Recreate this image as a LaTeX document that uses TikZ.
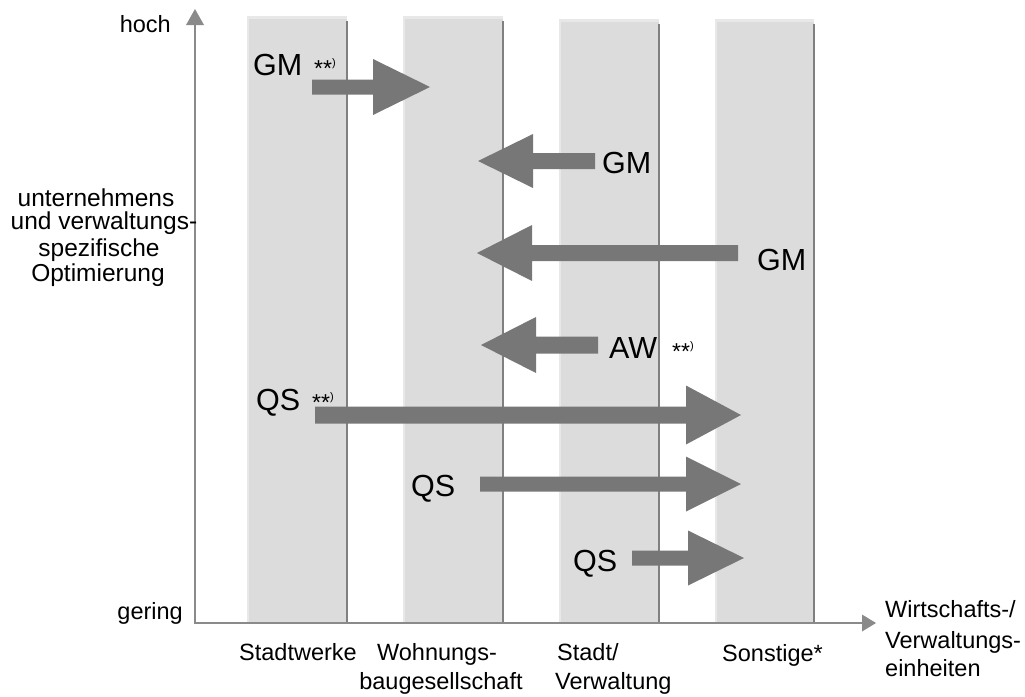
\documentclass[tikz,border=0pt]{standalone}
\usepackage{fontspec}
\setmainfont{Liberation Sans}
\definecolor{colfill}{HTML}{DCDCDC}
\definecolor{colhi}{HTML}{E8E8E8}
\definecolor{coledge}{HTML}{808080}
\definecolor{arrgray}{HTML}{777777}
\definecolor{axisgray}{HTML}{8A8A8A}
\newcommand{\lblfnt}{\fontsize{23.5}{25}\selectfont}
\newcommand{\leftfnt}{\fontsize{24.5}{25}\selectfont}
\newcommand{\bigfnt}{\fontsize{30.5}{32}\selectfont}
\newcommand{\starmark}{{\fontsize{23}{23}\selectfont **\raisebox{10pt}{\fontsize{11}{11}\selectfont )}}}
\newcommand{\blockarrow}[6]{%
  \fill[barrow] (#1,#4-#5) -- (#2,#4-#5) -- (#2,#4-#6) -- (#3,#4) -- (#2,#4+#6) -- (#2,#4+#5) -- (#1,#4+#5) -- cycle;}
\newcommand{\grcol}[3]{%
  \fill[colhi] (#1,#3) rectangle (#2,623);
  \fill[colfill] (#1+2,#3+3) rectangle (#2,623);
  \draw[coledge,line width=1.6pt] (#2,#3+5) -- (#2,623);}
\begin{document}
\begin{tikzpicture}[x=1pt,y=-1pt,
  barrow/.style={fill=arrgray},
  axis/.style={draw=axisgray,line width=1.4pt},
  axtip/.style={fill=axisgray},
  txt/.style={inner sep=0pt,font=\lblfnt},
  ltxt/.style={inner sep=0pt,font=\leftfnt},
  btxt/.style={inner sep=0pt,font=\bigfnt}]
\useasboundingbox (0,0) rectangle (1025,696);
% columns
\grcol{247}{347}{16}
\grcol{403}{503}{16}
\grcol{559}{659}{19}
\grcol{715}{814}{19}
% axes
\coordinate (origin) at (195,623);
\coordinate (ytip) at (195,25);
\coordinate (xtip) at (862,623);
\draw[axis] (ytip) -- (origin) -- (xtip);
\fill[axtip] (195,9) -- (204,25) -- (186,25) -- cycle;
\fill[axtip] (876,623) -- (862,614.5) -- (862,631.5) -- cycle;
% block arrows
\blockarrow{312}{373}{430}{87}{7.5}{28}
\blockarrow{595}{533}{478}{161}{8}{27}
\blockarrow{738}{532}{477}{253}{8}{28}
\blockarrow{598}{536}{481}{345}{8.5}{28}
\blockarrow{315}{686}{741}{415}{8.5}{29.5}
\blockarrow{480}{686}{741}{484}{7.5}{27.5}
\blockarrow{632}{688}{744}{558}{7.5}{27.5}
% arrow labels
\node[btxt,anchor=base west] (gm1) at (253,75) {GM};
\node[txt,anchor=base west] (st1) at (314,76) {\starmark};
\node[btxt,anchor=base west] (gm2) at (602,173) {GM};
\node[btxt,anchor=base west] (gm3) at (757,270) {GM};
\node[btxt,anchor=base west] (aw) at (609,358) {AW};
\node[txt,anchor=base west] (st2) at (672,359) {\starmark};
\node[btxt,anchor=base west] (qs1) at (256,410) {QS};
\node[txt,anchor=base west] (st3) at (312,410) {\starmark};
\node[btxt,anchor=base west] (qs2) at (411,496) {QS};
\node[btxt,anchor=base west] (qs3) at (573,571) {QS};
% axis labels
\node[txt,anchor=base east] (hoch) at (171,32) {hoch};
\node[txt,anchor=base east] (gering) at (183,619) {gering};
\node[ltxt,anchor=base] (l1) at (96,206) {unternehmens};
\node[ltxt,anchor=base] (l2) at (104,229) {und verwaltungs-};
\node[ltxt,anchor=base] (l3) at (99,256) {spezifische};
\node[ltxt,anchor=base] (l4) at (98,281) {Optimierung};
% column labels
\node[txt,anchor=base] (c1) at (298,660) {Stadtwerke};
\node[txt,anchor=base] (c2a) at (437,660) {Wohnungs-};
\node[txt,anchor=base] (c2b) at (441,689) {baugesellschaft};
\node[txt,anchor=base west] (c3a) at (557,660) {Stadt/};
\node[txt,anchor=base west] (c3b) at (555,689) {Verwaltung};
\node[txt,anchor=base west] (c4) at (722,661) {Sonstige*};
\node[txt,anchor=base west] (w1) at (885,617) {Wirtschafts-/};
\node[txt,anchor=base west] (w2) at (885,648) {Verwaltungs-};
\node[txt,anchor=base west] (w3) at (885,676) {einheiten};
\end{tikzpicture}
\end{document}
